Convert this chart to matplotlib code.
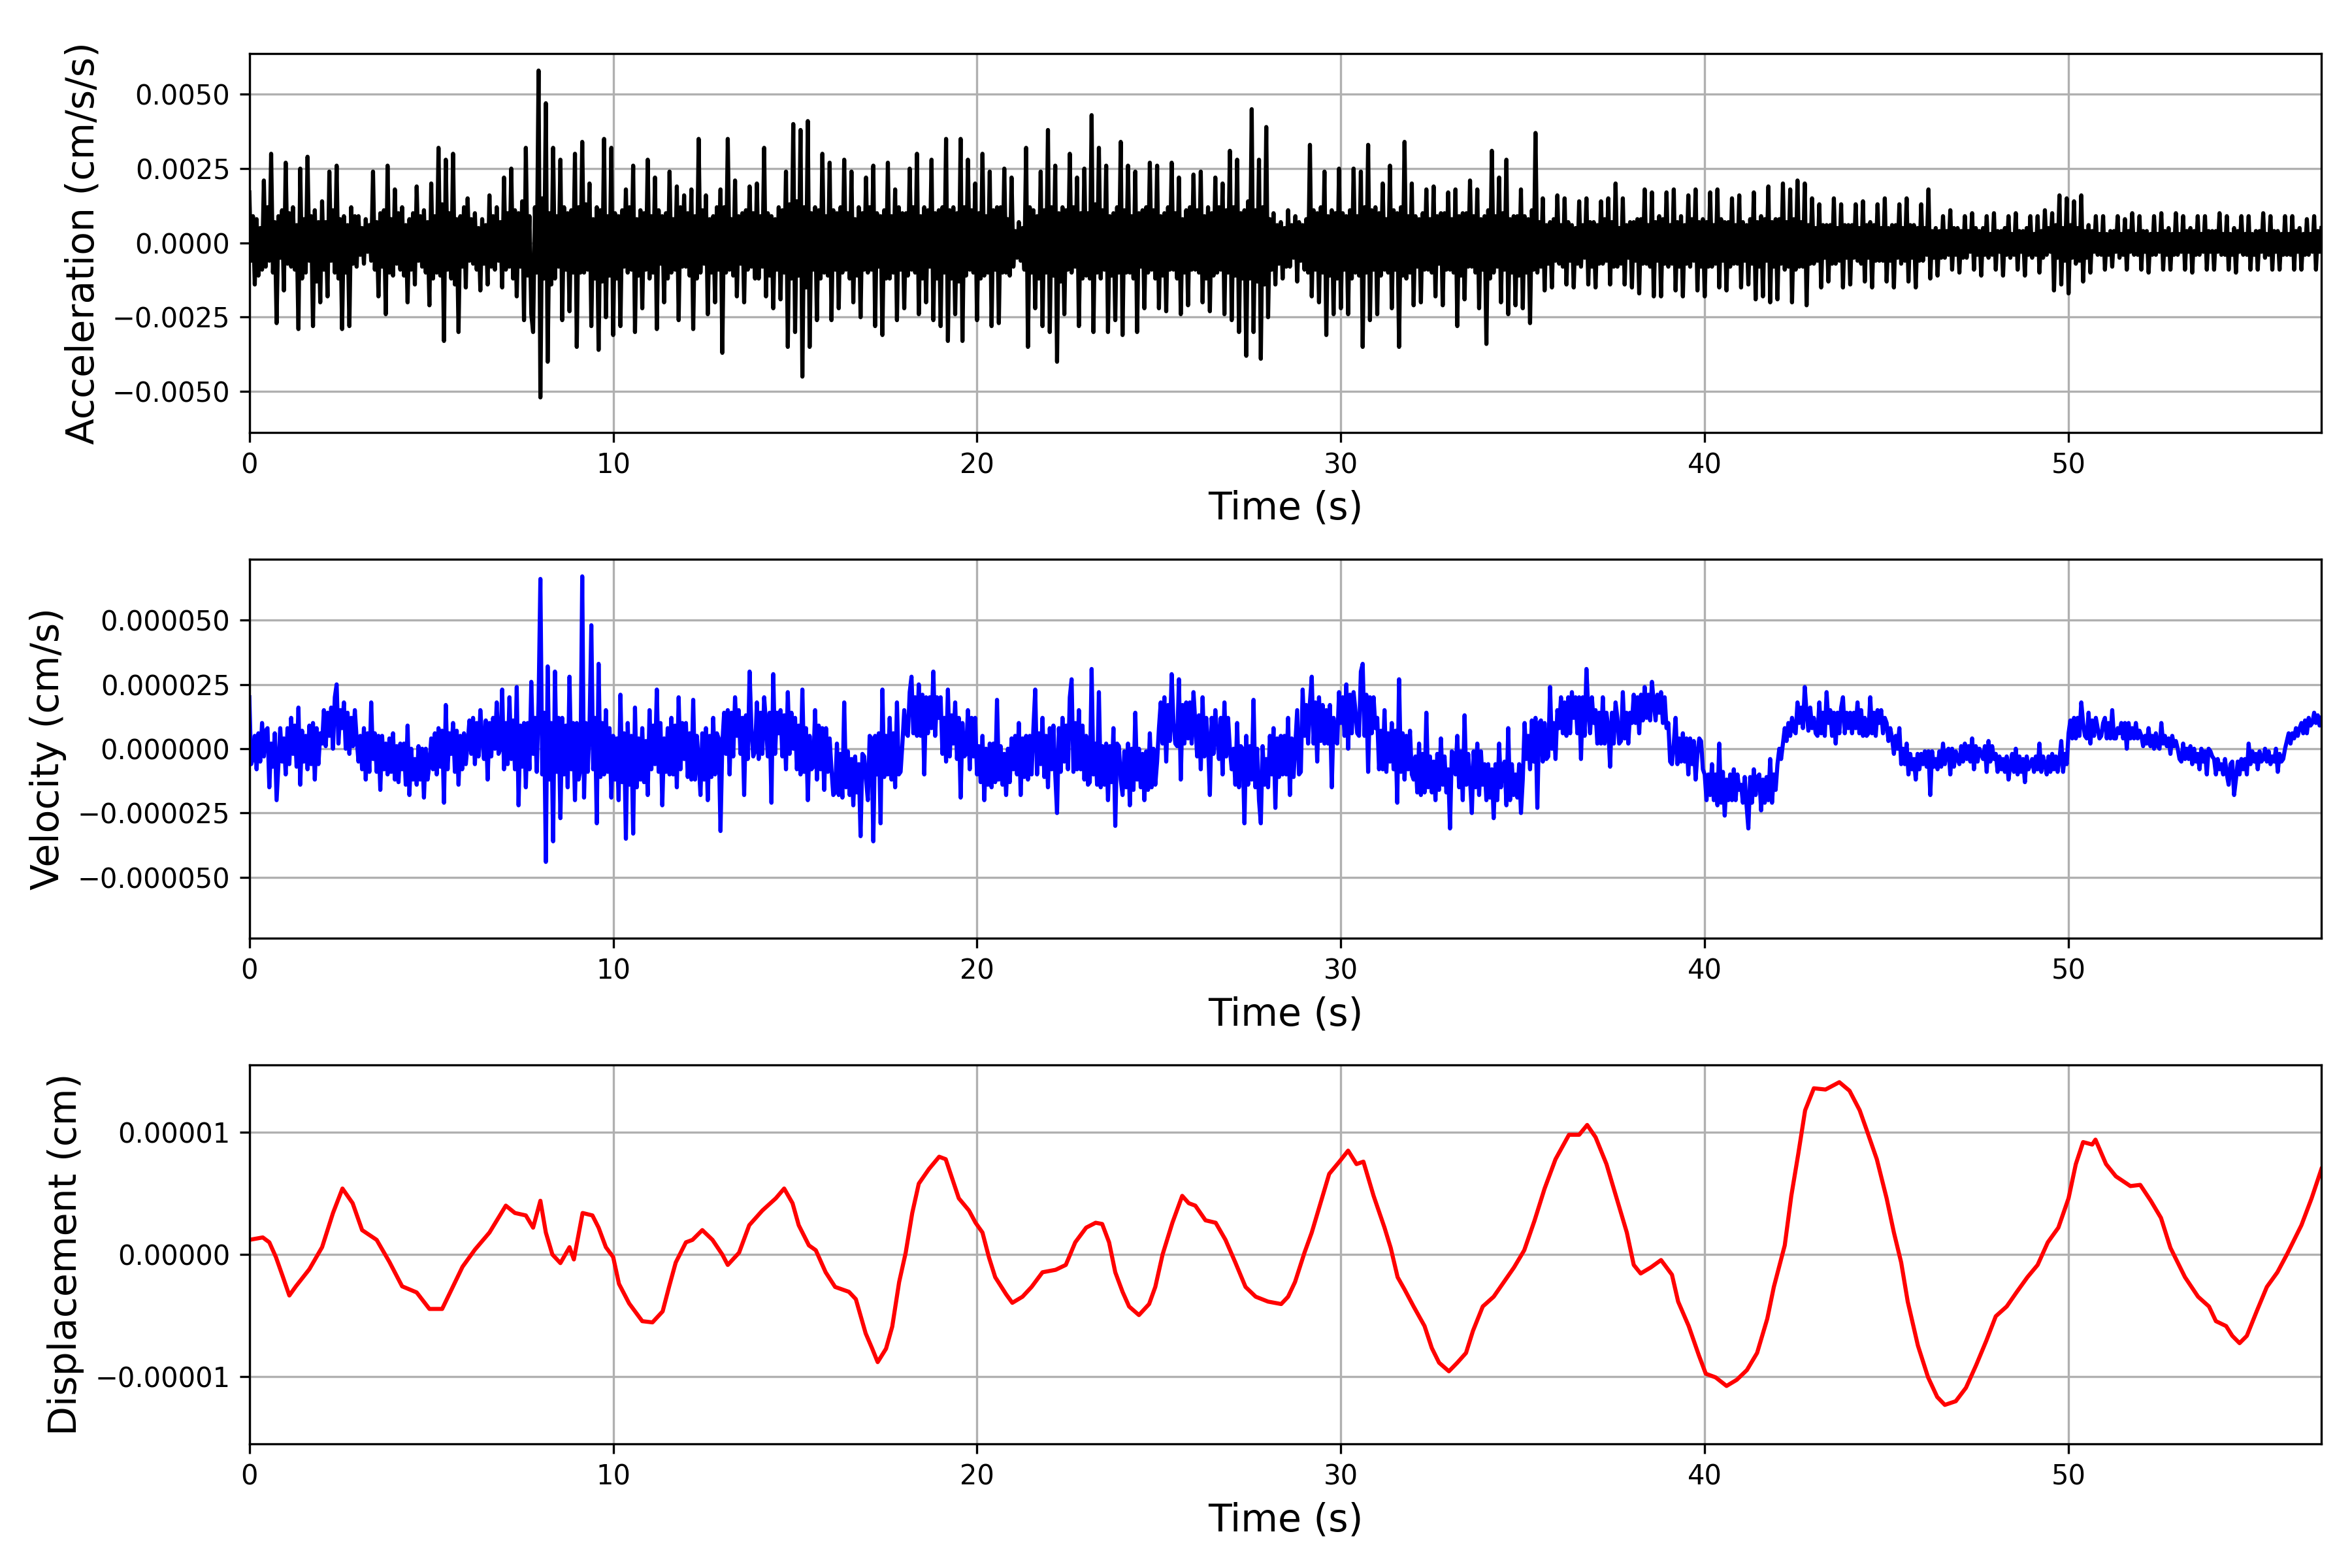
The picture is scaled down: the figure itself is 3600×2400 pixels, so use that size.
import matplotlib
matplotlib.use('Agg')
import matplotlib.pyplot as plt
import numpy as np

# record length (s)
DURATION = 56.95

# acceleration, 0.05 s steps (one row per second), in 1e-4 cm/s/s
acc_e4 = [
    17, -6, 9, -14, 8, -11, 5, -9, 21, -8, 12, -6, 30, -10, 7, -27, 9, -5, 11, -16,
    27, -7, 10, -8, 12, -9, 6, -29, 25, -12, 8, -10, 29, -6, 9, -28, 11, -13, 7, -20,
    14, -9, 7, -18, 24, -6, 11, -10, 26, -12, 8, -29, 9, -10, 6, -28, 12, -7, 9, -8,
    9, -4, 5, -7, 8, -3, 6, -6, 24, -9, 7, -18, 10, -8, 11, -24, 26, -10, 8, -11,
    18, -7, 10, -9, 12, -11, 6, -20, 8, -9, 10, -14, 19, -6, 9, -8, 11, -10, 7, -21,
    20, -12, 9, -10, 32, -11, 13, -33, 28, -9, 10, -12, 30, -14, 8, -30, 9, -8, 12, -15,
    15, -6, 8, -7, 10, -9, 5, -16, 8, -7, 6, -14, 16, -8, 9, -9, 12, -6, 7, -15,
    22, -9, 10, -8, 25, -12, 11, -18, 10, -8, 14, -26, 32, -11, 9, -24, -30, 12, -10, 58,
    -52, 15, -12, 47, -40, 10, -14, 32, -12, 9, -8, 28, -26, 12, -9, 10, -23, 11, -10, 30,
    -35, 12, -10, 34, -10, 13, -9, 20, -28, 8, -12, 12, -36, 11, -13, 35, -25, 9, -11, 32,
    -31, 10, -12, 9, -28, 11, -8, 18, -10, 12, -9, 26, -30, 8, -11, 11, -22, 10, -9, 28,
    -12, 9, -10, 22, -29, 11, -7, 9, -20, 10, -12, 24, -10, 8, -9, 19, -26, 12, -8, 16,
    -8, 10, -11, 18, -29, 9, -12, 35, -10, 11, -7, 16, -24, 8, -10, 9, -20, 12, -9, 18,
    -37, 12, -10, 35, -9, 8, -11, 21, -18, 9, -7, 10, -20, 11, -9, 19, -8, 10, -12, 20,
    -12, 9, -8, 32, -18, 10, -11, 9, -22, 8, -9, 12, -19, 11, -10, 24, -35, 13, -12, 40,
    -30, 14, -11, 38, -45, 12, -15, 41, -35, 10, -9, 12, -26, 11, -12, 30, -10, 9, -11, 27,
    -26, 11, -9, 10, -22, 12, -10, 28, -9, 10, -12, 24, -20, 8, -11, 12, -25, 10, -9, 22,
    -10, 12, -9, 26, -28, 10, -8, 9, -31, 11, -12, 27, -12, 9, -10, 18, -26, 12, -9, 10,
    -22, 10, -11, 25, -9, 12, -10, 30, -24, 9, -12, 12, -20, 11, -8, 28, -26, 10, -12, 11,
    -28, 12, -10, 35, -33, 11, -12, 12, -24, 10, -13, 35, -33, 12, -11, 28, -9, 11, -10, 20,
    -26, 10, -12, 30, -11, 9, -10, 24, -28, 11, -9, 12, -27, 12, -10, 25, -10, 8, -11, 22,
    -8, 4, -5, 7, -6, 5, -9, 32, -35, 12, -10, 11, -22, 9, -12, 24, -28, 11, -10, 38,
    -30, 12, -11, 26, -40, 10, -13, 12, -24, 11, -9, 30, -10, 12, -8, 22, -28, 10, -12, 25,
    -11, 10, -12, 43, -30, 13, -10, 32, -12, 11, -9, 26, -30, 9, -11, 10, -26, 12, -10, 34,
    -31, 11, -10, 26, -10, 9, -12, 24, -30, 10, -8, 11, -22, 12, -10, 27, -9, 11, -12, 26,
    -22, 9, -11, 10, -23, 12, -9, 27, -9, 10, -12, 22, -24, 8, -10, 11, -21, 12, -9, 23,
    -9, 11, -10, 24, -20, 9, -12, 12, -23, 10, -11, 22, -10, 12, -9, 20, -24, 11, -10, 31,
    -26, 12, -11, 28, -30, 10, -12, 11, -38, 14, -12, 45, -30, 11, -13, 28, -39, 12, -14, 39,
    -25, 8, -9, 10, -14, 6, -7, 7, -12, 5, -8, 11, -8, 6, -5, 9, -13, 7, -6, 6,
    -9, 8, -10, 33, -18, 11, -9, 10, -20, 12, -10, 24, -31, 9, -11, 11, -24, 10, -12, 25,
    -22, 10, -9, 9, -24, 11, -12, 25, -10, 9, -11, 24, -35, 12, -10, 33, -26, 11, -9, 12,
    -24, 10, -11, 20, -9, 8, -10, 26, -22, 11, -9, 10, -35, 12, -11, 34, -12, 9, -10, 20,
    -21, 9, -8, 8, -20, 10, -9, 18, -9, 8, -10, 19, -18, 9, -7, 10, -21, 10, -9, 17,
    -9, 8, -10, 18, -28, 9, -11, 10, -19, 10, -8, 21, -8, 9, -10, 18, -22, 8, -9, 9,
    -34, 11, -12, 31, -10, 9, -8, 22, -20, 10, -9, 28, -24, 8, -10, 9, -21, 9, -11, 18,
    -22, 9, -10, 8, -27, 11, -9, 37, -10, 7, -8, 15, -16, 6, -7, 7, -15, 8, -6, 16,
    -7, 6, -8, 15, -14, 7, -6, 6, -15, 5, -7, 14, -8, 6, -5, 15, -14, 7, -8, 7,
    -15, 6, -7, 14, -7, 8, -6, 15, -14, 7, -8, 20, -8, 5, -7, 15, -14, 6, -5, 7,
    -15, 7, -6, 8, -17, 8, -7, 18, -7, 6, -8, 17, -18, 7, -6, 9, -18, 8, -7, 17,
    -8, 6, -7, 18, -16, 7, -8, 9, -18, 6, -7, 16, -8, 8, -6, 18, -16, 7, -8, 8,
    -18, 7, -8, 17, -8, 6, -7, 18, -15, 8, -6, 7, -16, 7, -8, 15, -7, 6, -7, 16,
    -15, 7, -6, 6, -14, 8, -7, 17, -19, 7, -8, 9, -18, 8, -6, 19, -20, 7, -8, 8,
    -19, 8, -7, 20, -9, 7, -8, 18, -20, 8, -9, 21, -8, 7, -8, 20, -21, 6, -7, 15,
    -7, 5, -6, 13, -15, 6, -5, 6, -13, 6, -7, 15, -7, 5, -6, 13, -15, 6, -5, 6,
    -14, 6, -5, 13, -6, 5, -7, 14, -13, 6, -5, 7, -15, 6, -6, 13, -6, 5, -6, 15,
    -13, 5, -6, 6, -15, 6, -5, 13, -7, 5, -6, 15, -13, 6, -5, 6, -15, 5, -6, 13,
    -6, 5, -4, 18, -12, 4, -5, 5, -11, 4, -5, 9, -5, 4, -4, 11, -9, 5, -4, 5,
    -10, 4, -5, 9, -5, 4, -3, 10, -9, 5, -4, 4, -11, 5, -4, 9, -5, 3, -4, 10,
    -9, 4, -3, 4, -11, 5, -4, 9, -5, 3, -4, 10, -9, 4, -3, 4, -11, 5, -4, 9,
    -5, 3, -4, 9, -10, 4, -5, 11, -4, 5, -3, 10, -16, 6, -5, 16, -14, 5, -6, 15,
    -17, 6, -5, 14, -7, 5, -6, 16, -13, 4, -5, 6, -10, 4, -3, 9, -4, 3, -4, 9,
    -9, 3, -4, 4, -8, 4, -3, 9, -5, 3, -4, 8, -9, 4, -3, 10, -4, 3, -4, 9,
    -9, 4, -3, 4, -10, 3, -4, 9, -4, 3, -3, 10, -9, 4, -4, 5, -9, 3, -4, 10,
    -4, 3, -3, 9, -9, 4, -3, 5, -10, 4, -4, 9, -4, 3, -3, 9, -9, 4, -3, 4,
    -9, 4, -3, 10, -4, 3, -4, 9, -9, 3, -4, 5, -10, 4, -3, 9, -4, 3, -4, 9,
    -9, 3, -4, 4, -9, 4, -3, 10, -5, 3, -4, 9, -9, 4, -3, 4, -9, 3, -4, 9,
    -4, 3, -4, 9, -9, 4, -3, 5, -9, 3, -4, 8, -4, 3, -3, 9, -9, 4, -3, 5,
]

# velocity, 0.05 s steps (one row per second), in 1e-6 cm/s
vel_e6 = [
    20, -6, -4, 5, -8, 6, -5, 10, -3, 7, 8, -15, 2, -7, 6, -20, -6, 8, -5, 4,
    -10, 8, -6, 12, -2, 9, -7, 16, -14, 7, -5, 5, -8, 9, -6, 10, -12, 8, -6, 6,
    2, 15, 1, 14, 5, 16, 0, 20, 25, 2, 15, 8, 18, 0, 14, -2, 12, 1, 15, 4,
    -5, 5, -8, 8, -12, 6, -9, 18, -4, 6, -9, 5, -16, 5, -8, 2, -10, 4, -9, 6,
    -12, 1, -13, 2, -8, 2, -14, 9, -18, 0, -12, -4, -14, 1, -12, 0, -19, 0, -12, -6,
    4, -8, 6, -10, 8, -7, 7, -21, 17, -8, 6, -2, 10, -9, 7, -14, 5, -8, 6, -6,
    2, 11, -2, 12, -6, 10, -3, 15, 4, -4, 11, -12, 10, -3, 12, 0, 18, -2, 0, 23,
    -8, 10, -6, 20, -4, 11, -8, 24, -22, 9, -7, 10, -15, 10, -8, 26, -2, 12, -9, 18,
    66, -10, 14, -44, 32, -12, 10, -36, 30, -9, 12, -27, 12, -10, 9, -15, 28, -8, 10, -20,
    10, -12, -8, 67, -19, 10, -9, 8, 48, -8, 12, -29, 33, -11, 10, -10, 15, -9, 8, -19,
    5, -12, 4, -20, 21, -13, 6, -35, 10, -14, 5, -33, 16, -15, 4, -12, 8, -13, 3, -18,
    15, -8, 9, -6, 23, -9, 10, -22, 4, -9, 8, -10, 12, -10, 9, -15, 20, -8, 10, -4,
    10, -11, 6, -12, 19, -12, 5, -5, -18, 6, -12, 8, -20, 5, -11, 12, -10, 6, 4, -32,
    2, 14, -2, 15, -10, 14, -3, 20, 5, 15, -2, 12, -18, 13, -4, 30, 8, -3, -1, 18,
    -4, 14, -2, 20, 10, -3, 14, -21, 29, -2, 14, 6, 15, -3, 13, -8, 22, -2, 14, 0,
    12, -8, 9, -10, 23, -9, 8, -20, 5, -8, -7, 15, -12, 9, -8, 8, -16, 8, -9, 4,
    -8, -18, -17, 2, -18, -2, -19, 18, -15, -1, -18, -4, -22, -3, -17, -6, -34, -2, -3, -12,
    -20, 5, 4, -36, 5, -10, 6, -29, 23, -11, 5, -10, 12, -12, 6, -15, 18, -10, -9, 2,
    15, 6, 5, 22, 28, 6, 20, 5, 25, 5, 21, -10, 20, 6, 20, 8, 30, 5, 20, 12,
    20, -2, 12, -5, 23, -3, 13, 2, 18, -4, 12, -19, 10, -3, -2, 15, -8, 12, -3, 12,
    -10, 1, -13, 5, -20, 0, -14, 2, -15, 2, -13, 19, -12, 1, -14, -2, -18, 0, -13, 4,
    -8, 5, -10, 10, -18, 4, -11, 5, -12, 5, -10, 8, 23, -10, 6, -6, 12, -11, 5, -15,
    8, -8, 9, -10, -25, 8, -9, 12, -5, 9, -8, 20, 27, -9, 10, -8, 15, -8, 9, -12,
    5, -14, -13, 31, -10, 2, -14, 22, -15, 1, -14, 2, -20, 1, -13, 8, -30, 2, 1, -12,
    -18, -1, -15, 2, -22, 0, -16, 14, -12, 0, -15, -2, -20, -1, -16, 6, -15, 0, -14, -5,
    8, 18, 2, 20, -5, 17, 3, 29, 10, 2, 1, 27, -12, 17, 2, 18, 4, 18, 2, 22,
    10, -3, 13, -8, 20, -3, 12, 2, -18, 12, -2, 15, 5, -4, 12, -10, 18, -3, 12, 0,
    -8, 0, -14, 10, -15, 1, 0, -29, 5, -14, 1, -12, 19, -15, 0, -20, -29, 1, -14, -4,
    -15, 5, -10, 8, -23, 4, -11, 5, -10, 5, -10, 12, -18, 4, -11, 2, 15, -10, -9, 23,
    5, 17, 2, 18, 28, 2, 18, -5, 20, 3, 17, 2, 15, 2, 17, -15, 12, 3, 2, 22,
    10, 20, 5, 25, 0, 21, 6, 22, 15, 6, 5, 30, 33, 5, 21, -9, 20, 6, 20, 8,
    12, -8, 7, -8, 15, -9, 6, -5, 10, -8, 7, -21, 27, -9, 6, -12, 5, -8, 7, -10,
    -12, -3, -17, 2, -18, -2, -17, 14, -15, -3, -17, -5, -20, -2, -16, 4, -14, -3, -17, -8,
    -31, -1, -2, -10, 5, -15, -1, -20, 13, -14, -2, -12, -25, -1, -15, 2, -18, -1, -14, -6,
    -20, -6, -19, -8, -27, -6, -20, 2, -15, -7, -5, -22, 8, -20, -6, -18, -10, -19, -6, -25,
    -12, 10, -4, 5, -8, 11, -5, 12, -23, 10, 11, -5, 10, -4, -3, 24, 0, 10, -4, 15,
    8, 20, 6, 18, 5, 20, 6, 22, 12, 20, 6, 20, -4, 20, 5, 31, 15, 6, 20, 10,
    15, 2, 14, 2, 20, 2, 14, 8, -7, 14, 2, 18, 12, 2, 3, 22, 4, 14, 2, 14,
    10, 21, 10, 20, 6, 21, 11, 24, 12, 21, 11, 26, 18, 11, 21, 14, 22, 10, 20, 8,
    10, -5, -6, 2, 12, -6, 4, -5, 6, -5, 4, -10, 4, -6, 3, -12, -2, 4, 3, -8,
    -10, -20, -10, -18, -6, -20, -10, -22, 2, -21, -9, -26, -12, -20, -10, -20, -8, -20, -10, -16,
    -14, -21, -11, -22, -31, -11, -21, -8, -18, -11, -10, -24, -12, -21, -11, -20, -4, -21, -10, -16,
    -6, 0, -4, 2, 8, 3, 10, 5, 12, 7, 6, 18, 10, 16, 8, 24, 14, 7, 16, 8,
    12, 6, 5, 18, 6, 14, 5, 22, 10, 15, 5, 14, 2, 14, 6, 16, 20, 6, 14, 8,
    14, 6, 14, 8, 18, 6, 15, 5, 12, 5, 6, 20, 6, 14, 5, 15, 10, 15, 6, 12,
    10, 3, 8, 4, -2, 5, 0, 8, -6, 0, -6, 2, -10, -2, -8, -4, -12, -2, -8, -2,
    -6, -1, -7, -1, -18, -1, -7, -4, -8, -1, -7, 2, -6, -1, 0, -10, 0, -7, -1, -4,
    -6, 1, -5, 2, -4, 1, -5, 4, -8, 1, -5, 0, -2, -4, 1, -9, 3, -5, 1, -4,
    -2, -9, -3, -8, -4, -9, -3, -12, -6, -2, -9, 0, -10, -3, -9, -4, -13, -3, -8, -6,
    -4, -9, -3, -8, 2, -9, -3, -6, -10, -3, -9, -2, -8, -3, -9, -4, 3, -9, -2, -6,
    6, 11, 4, 12, 4, 12, 5, 18, 10, 5, 4, 14, 2, 11, 5, 12, 8, 4, 5, 10,
    12, 4, 10, 4, 15, 4, 4, 8, 6, 10, 4, 10, 0, 10, 4, 8, 4, 10, 4, 7,
    5, 1, 5, 2, 8, 1, 5, 0, 6, 1, 0, 10, 2, 5, 1, 4, -2, 5, 1, 3,
    0, -4, -5, 2, -4, 0, -4, 1, -6, 0, -5, -2, -8, 0, -5, -1, -10, 0, -1, -3,
    -4, -10, -4, -8, -6, -10, -4, -10, -14, -6, -5, -18, -12, -5, -10, -4, -8, -4, -10, 2,
    -6, -1, -5, -2, -8, -1, -5, -4, 0, -5, -1, -6, -3, -5, 0, -9, -2, -5, -4, 0,
    3, 6, 2, 6, 4, 8, 5, 8, 10, 6, 11, 6, 12, 9, 10, 14, 10, 13, 9, 12,
]

# displacement read at these times (s), values in 1e-6 cm
disp_t = [
    0, 0.37, 0.55, 0.73, 0.92, 1.1, 1.28, 1.65, 2.0, 2.3,
    2.56, 2.84, 3.1, 3.5, 3.85, 4.2, 4.6, 4.95, 5.3, 5.6,
    5.86, 6.2, 6.6, 7.05, 7.3, 7.6, 7.8, 8.0, 8.15, 8.33,
    8.55, 8.8, 8.92, 9.16, 9.43, 9.6, 9.8, 10.0, 10.16, 10.44,
    10.8, 11.08, 11.36, 11.54, 11.72, 12.0, 12.18, 12.45, 12.73, 13.0,
    13.15, 13.46, 13.74, 14.1, 14.47, 14.7, 14.93, 15.1, 15.38, 15.57,
    15.84, 16.1, 16.48, 16.67, 16.94, 17.12, 17.27, 17.5, 17.67, 17.86,
    18.04, 18.22, 18.4, 18.68, 18.96, 19.14, 19.32, 19.5, 19.78, 19.96,
    20.15, 20.33, 20.5, 20.8, 20.97, 21.25, 21.5, 21.8, 22.16, 22.44,
    22.7, 23.0, 23.26, 23.44, 23.63, 23.8, 24.0, 24.18, 24.45, 24.73,
    24.9, 25.1, 25.37, 25.64, 25.82, 26.0, 26.28, 26.56, 26.83, 27.1,
    27.38, 27.66, 28.0, 28.36, 28.55, 28.74, 29.0, 29.2, 29.4, 29.68,
    29.96, 30.2, 30.43, 30.62, 30.9, 31.2, 31.37, 31.56, 31.75, 32.0,
    32.3, 32.5, 32.7, 32.97, 33.2, 33.44, 33.63, 33.9, 34.2, 34.48,
    34.76, 35.04, 35.32, 35.6, 35.9, 36.27, 36.55, 36.77, 37.0, 37.3,
    37.58, 37.86, 38.05, 38.24, 38.52, 38.8, 39.1, 39.27, 39.56, 39.84,
    40.03, 40.3, 40.6, 40.88, 41.16, 41.44, 41.72, 41.9, 42.2, 42.38,
    42.57, 42.76, 43.0, 43.32, 43.7, 43.98, 44.26, 44.45, 44.73, 45.0,
    45.2, 45.4, 45.58, 45.86, 46.14, 46.39, 46.6, 46.9, 47.18, 47.46,
    47.74, 48.0, 48.3, 48.58, 48.87, 49.15, 49.43, 49.72, 50.0, 50.2,
    50.4, 50.65, 50.74, 51.03, 51.3, 51.7, 51.97, 52.26, 52.54, 52.8,
    53.2, 53.56, 53.86, 54.05, 54.33, 54.5, 54.7, 54.9, 55.17, 55.45,
    55.74, 56.0, 56.4, 56.68, 56.95,
]
disp_e6 = [
    1.2, 1.4, 1.0, -0.2, -1.8, -3.35, -2.6, -1.2, 0.6, 3.4,
    5.4, 4.2, 2.0, 1.2, -0.6, -2.6, -3.1, -4.45, -4.45, -2.6,
    -1.0, 0.4, 1.8, 4.0, 3.4, 3.2, 2.2, 4.4, 1.8, 0.0,
    -0.7, 0.6, -0.4, 3.4, 3.2, 2.2, 0.6, -0.2, -2.4, -4.0,
    -5.45, -5.55, -4.65, -2.6, -0.65, 1.0, 1.2, 2.0, 1.2, 0.0,
    -0.85, 0.15, 2.4, 3.6, 4.6, 5.4, 4.2, 2.4, 0.75, 0.35,
    -1.45, -2.65, -3.05, -3.65, -6.45, -7.7, -8.8, -7.7, -5.9, -2.25,
    0.15, 3.4, 5.8, 7.0, 8.0, 7.8, 6.2, 4.6, 3.6, 2.6,
    1.8, -0.25, -1.85, -3.25, -3.95, -3.45, -2.65, -1.45, -1.25, -0.85,
    1.0, 2.2, 2.6, 2.5, 1.0, -1.45, -3.05, -4.25, -4.95, -4.05,
    -2.65, 0.0, 2.6, 4.8, 4.2, 4.0, 2.8, 2.6, 1.2, -0.65,
    -2.65, -3.45, -3.85, -4.05, -3.45, -2.25, 0.15, 1.8, 3.8, 6.6,
    7.6, 8.5, 7.4, 7.6, 4.8, 2.2, 0.55, -1.85, -2.85, -4.25,
    -5.85, -7.65, -8.85, -9.55, -8.85, -8.05, -6.25, -4.25, -3.45, -2.25,
    -1.05, 0.35, 2.75, 5.4, 7.8, 9.8, 9.8, 10.6, 9.6, 7.4,
    4.6, 1.8, -0.85, -1.55, -1.05, -0.45, -1.65, -3.85, -5.85, -8.25,
    -9.75, -10.05, -10.75, -10.25, -9.45, -8.05, -5.25, -2.65, 0.75, 4.8,
    8.2, 11.8, 13.6, 13.5, 14.1, 13.4, 11.8, 10.2, 7.8, 4.6,
    1.8, -0.65, -3.85, -7.45, -10.05, -11.65, -12.3, -12.0, -10.9, -9.05,
    -7.05, -5.05, -4.25, -3.05, -1.85, -0.85, 1.0, 2.2, 4.6, 7.4,
    9.2, 9.0, 9.4, 7.4, 6.4, 5.6, 5.7, 4.4, 3.0, 0.55,
    -1.85, -3.45, -4.25, -5.45, -5.85, -6.65, -7.25, -6.65, -4.65, -2.65,
    -1.45, 0.0, 2.4, 4.6, 7.0,
]

acc = np.array(acc_e4) * 1e-4
vel = np.array(vel_e6) * 1e-6
disp = np.array(disp_e6) * 1e-6

t_acc = np.linspace(0, DURATION, len(acc))
t_vel = np.linspace(0, DURATION, len(vel))
t_disp = np.array(disp_t)

panels = [
    (t_acc, acc, 'black', 'Acceleration (cm/s/s)'),
    (t_vel, vel, 'blue', 'Velocity (cm/s)'),
    (t_disp, disp, 'red', 'Displacement (cm)'),
]

fig, axes = plt.subplots(3, 1, figsize=(12, 8))
for ax, (x, y, color, label) in zip(axes, panels):
    ax.plot(x, y, color=color, lw=1.5)
    lim = 1.1 * np.abs(y).max()
    ax.set_ylim(-lim, lim)
    ax.set_xlim(0, DURATION)
    ax.set_xlabel('Time (s)', fontsize=14)
    ax.set_ylabel(label, fontsize=14)
    ax.tick_params(labelsize=10)
    # plain decimals on the y axis, no 1e-5 offset text
    ax.ticklabel_format(axis='y', style='plain', useOffset=False)
    ax.grid(True)

fig.subplots_adjust(left=0.106, right=0.987, top=0.966, bottom=0.079, hspace=0.334)
fig.savefig('out.png', dpi=300)
